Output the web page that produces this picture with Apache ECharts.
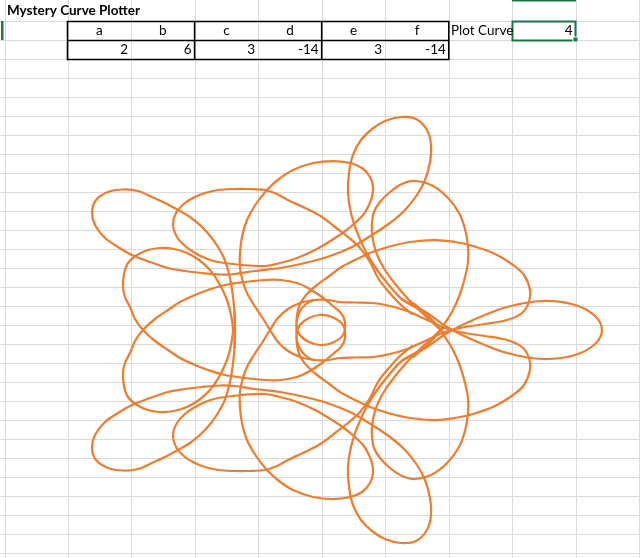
<!DOCTYPE html>
<html><head><meta charset="utf-8">
<script src="https://cdn.jsdelivr.net/npm/echarts@6/dist/echarts.min.js"></script>
<style>html,body{margin:0;padding:0;background:#fff}#c{width:640px;height:558px}</style>
</head><body><div id="c"></div>
<script>
// ---- table content ----
const title = 'Mystery Curve Plotter';
const paramNames = ['a', 'b', 'c', 'd', 'e', 'f'];
const paramValues = [2, 6, 3, -14, 3, -14];
const plotLabel = 'Plot Curve';
const plotValue = 4;

// ---- curve strokes (X,Y in plot units) ----
const farRightLoop = [[0.83,-0.30],[1.07,-0.17],[1.27,-0.03],[1.53,0.10],[1.87,0.23],[2.23,0.29],[2.55,0.25],[2.75,0.14],[2.82,0],[2.75,-0.14],[2.55,-0.25],[2.23,-0.29],[1.87,-0.23],[1.53,-0.10],[1.27,0.03],[1.07,0.17],[0.83,0.30]];
const topArc = [[1.07,0.17],[0.83,0.30],[0.68,0.46],[0.55,0.63],[0.45,0.80],[0.37,0.98],[0.31,1.17],[0.28,1.37],[0.29,1.57],[0.33,1.75],[0.41,1.90],[0.52,2.01],[0.65,2.09],[0.81,2.13],[0.96,2.11],[1.07,2.00],[1.11,1.85],[1.10,1.68],[1.05,1.50],[0.97,1.35],[0.85,1.20],[0.70,1.07],[0.52,0.95],[0.32,0.83],[0.10,0.74],[-0.15,0.67],[-0.40,0.62],[-0.65,0.59],[-0.85,0.56],[-1.00,0.555],[-1.18,0.57],[-1.35,0.59],[-1.52,0.62],[-1.70,0.68],[-1.88,0.75],[-2.02,0.83],[-2.15,0.92],[-2.25,1.05],[-2.28,1.18],[-2.24,1.30],[-2.12,1.38],[-1.97,1.405],[-1.82,1.39],[-1.68,1.33],[-1.55,1.27],[-1.42,1.20],[-1.30,1.13],[-1.18,1.03],[-1.09,0.93],[-1.02,0.83],[-0.96,0.72],[-0.92,0.60],[-0.89,0.47],[-0.87,0.33],[-0.855,0.18],[-0.85,0],[-0.855,-0.18]];
const bottomArc = [[1.07,-0.17],[0.83,-0.30],[0.68,-0.46],[0.55,-0.63],[0.45,-0.80],[0.37,-0.98],[0.31,-1.17],[0.28,-1.37],[0.29,-1.57],[0.33,-1.75],[0.41,-1.90],[0.52,-2.01],[0.65,-2.09],[0.81,-2.13],[0.96,-2.11],[1.07,-2.00],[1.11,-1.85],[1.10,-1.68],[1.05,-1.50],[0.97,-1.35],[0.85,-1.20],[0.70,-1.07],[0.52,-0.95],[0.32,-0.83],[0.10,-0.74],[-0.15,-0.67],[-0.40,-0.62],[-0.65,-0.59],[-0.85,-0.56],[-1.00,-0.555],[-1.18,-0.57],[-1.35,-0.59],[-1.52,-0.62],[-1.70,-0.68],[-1.88,-0.75],[-2.02,-0.83],[-2.15,-0.92],[-2.25,-1.05],[-2.28,-1.18],[-2.24,-1.30],[-2.12,-1.38],[-1.97,-1.405],[-1.82,-1.39],[-1.68,-1.33],[-1.55,-1.27],[-1.42,-1.20],[-1.30,-1.13],[-1.18,-1.03],[-1.09,-0.93],[-1.02,-0.83],[-0.96,-0.72],[-0.92,-0.60],[-0.89,-0.47],[-0.87,-0.33],[-0.855,-0.18],[-0.85,0],[-0.855,0.18]];

// left pretzel, its two tails, the two small centre loops and the wide right-hand lobes
const innerFigure = [[-0.55,0.50],[-0.75,0.48],[-0.95,0.45],[-1.12,0.40],[-1.25,0.35],[-1.40,0.28],[-1.52,0.20],[-1.65,0.11],[-1.77,0],[-1.85,-0.11],[-1.90,-0.23],[-1.95,-0.33],[-1.97,-0.43],[-1.96,-0.56],[-1.92,-0.67],[-1.83,-0.75],[-1.72,-0.80],[-1.60,-0.82],[-1.46,-0.81],[-1.33,-0.77],[-1.21,-0.70],[-1.10,-0.60],[-1.01,-0.47],[-0.93,-0.30],[-0.89,-0.15],[-0.87,0],[-0.89,0.15],[-0.93,0.30],[-1.01,0.47],[-1.10,0.60],[-1.21,0.70],[-1.33,0.77],[-1.46,0.81],[-1.60,0.82],[-1.72,0.80],[-1.83,0.75],[-1.92,0.67],[-1.96,0.56],[-1.97,0.43],[-1.95,0.33],[-1.90,0.23],[-1.85,0.11],[-1.77,0],[-1.65,-0.11],[-1.52,-0.20],[-1.40,-0.28],[-1.25,-0.35],[-1.12,-0.40],[-0.95,-0.45],[-0.75,-0.48],[-0.55,-0.50],
 [-0.39,-0.50],[-0.23,-0.47],[-0.12,-0.42],[0.02,-0.33],[0.13,-0.24],[0.21,-0.17],[0.25,-0.08],[0.23,0.05],[0.12,0.13],[0,0.15],[-0.11,0.12],[-0.20,0.05],[-0.235,-0.05],[-0.21,-0.17],[-0.14,-0.26],[-0.05,-0.30],[0.08,-0.30],[0.20,-0.28],[0.35,-0.275],[0.53,-0.27],[0.70,-0.24],[0.87,-0.19],[1.05,-0.11],[1.25,-0.02],[1.45,0.03],[1.65,0.06],[1.87,0.10],[2.02,0.17],[2.09,0.28],[2.10,0.40],[2.04,0.55],[1.93,0.65],[1.75,0.76],[1.53,0.84],[1.35,0.88],[1.15,0.90],[0.90,0.88],[0.68,0.83],[0.50,0.77],[0.35,0.70],[0.20,0.62],[0.08,0.53],[-0.03,0.45],[-0.12,0.37],[-0.19,0.28],[-0.22,0.20],[-0.235,0.10],[-0.235,0],
 [-0.235,-0.10],[-0.22,-0.20],[-0.19,-0.28],[-0.12,-0.37],[-0.03,-0.45],[0.08,-0.53],[0.20,-0.62],[0.35,-0.70],[0.50,-0.77],[0.68,-0.83],[0.90,-0.88],[1.15,-0.90],[1.35,-0.88],[1.53,-0.84],[1.75,-0.76],[1.93,-0.65],[2.04,-0.55],[2.10,-0.40],[2.09,-0.28],[2.02,-0.17],[1.87,-0.10],[1.65,-0.06],[1.45,-0.03],[1.25,0.02],[1.05,0.11],[0.87,0.19],[0.70,0.24],[0.53,0.27],[0.35,0.275],[0.20,0.28],[0.08,0.30],[-0.05,0.30],[-0.14,0.26],[-0.21,0.17],[-0.235,0.05],[-0.20,-0.05],[-0.11,-0.12],[0,-0.15],[0.12,-0.13],[0.23,-0.05],[0.25,0.08],[0.21,0.17],[0.13,0.24],[0.02,0.33],[-0.12,0.42],[-0.23,0.47],[-0.39,0.50],[-0.55,0.50]];

const upperRound = [[-0.07,-0.30],[-0.20,-0.27],[-0.32,-0.21],[-0.42,-0.12],[-0.50,0],[-0.58,0.13],[-0.66,0.25],[-0.73,0.37],[-0.77,0.48],[-0.80,0.62],[-0.80,0.77],[-0.78,0.93],[-0.73,1.10],[-0.64,1.26],[-0.53,1.40],[-0.41,1.51],[-0.27,1.60],[-0.07,1.67],[0.13,1.69],[0.30,1.67],[0.42,1.62],[0.50,1.53],[0.53,1.43],[0.52,1.33],[0.48,1.23],[0.43,1.15],[0.35,1.07],[0.24,0.98],[0.12,0.90],[-0.05,0.80],[-0.23,0.72],[-0.40,0.67],[-0.55,0.64],[-0.78,0.65],[-1.02,0.68],[-1.15,0.72],[-1.25,0.77],[-1.35,0.84],[-1.43,0.93],[-1.47,1.05],[-1.44,1.17],[-1.35,1.27],[-1.25,1.33],[-1.15,1.37],[-1.02,1.40],[-0.88,1.41],[-0.70,1.41],[-0.55,1.40],[-0.43,1.36],[-0.32,1.30],[-0.15,1.22],[0.02,1.13],[0.15,1.03],[0.28,0.93],[0.40,0.82],[0.50,0.68],[0.58,0.52],[0.68,0.39],[0.80,0.26],[0.92,0.16]];
const lowerRound = [[-0.07,0.30],[-0.20,0.27],[-0.32,0.21],[-0.42,0.12],[-0.50,0],[-0.58,-0.13],[-0.66,-0.25],[-0.73,-0.37],[-0.77,-0.48],[-0.80,-0.62],[-0.80,-0.77],[-0.78,-0.93],[-0.73,-1.10],[-0.64,-1.26],[-0.53,-1.40],[-0.41,-1.51],[-0.27,-1.60],[-0.07,-1.67],[0.13,-1.69],[0.30,-1.67],[0.42,-1.62],[0.50,-1.53],[0.53,-1.43],[0.52,-1.33],[0.48,-1.23],[0.43,-1.15],[0.35,-1.07],[0.24,-0.98],[0.12,-0.90],[-0.05,-0.80],[-0.23,-0.72],[-0.40,-0.67],[-0.55,-0.64],[-0.78,-0.65],[-1.02,-0.68],[-1.15,-0.72],[-1.25,-0.77],[-1.35,-0.84],[-1.43,-0.93],[-1.47,-1.05],[-1.44,-1.17],[-1.35,-1.27],[-1.25,-1.33],[-1.15,-1.37],[-1.02,-1.40],[-0.88,-1.41],[-0.70,-1.41],[-0.55,-1.40],[-0.43,-1.36],[-0.32,-1.30],[-0.15,-1.22],[0.02,-1.13],[0.15,-1.03],[0.28,-0.93],[0.40,-0.82],[0.50,-0.68],[0.58,-0.52],[0.68,-0.39],[0.80,-0.26],[0.92,-0.16]];

const upperRing = [[0.93,-0.27],[1.05,-0.17],[1.15,-0.07],[1.25,0.07],[1.33,0.20],[1.40,0.36],[1.45,0.53],[1.48,0.68],[1.48,0.83],[1.45,1.01],[1.39,1.17],[1.28,1.32],[1.13,1.44],[0.95,1.49],[0.82,1.46],[0.70,1.38],[0.60,1.28],[0.54,1.18],[0.52,1.07],[0.52,0.97],[0.54,0.85],[0.58,0.73],[0.65,0.60],[0.76,0.45],[0.88,0.31],[1.00,0.19],[1.12,0.08],[1.23,-0.02]];
const lowerRing = [[0.93,0.27],[1.05,0.17],[1.15,0.07],[1.25,-0.07],[1.33,-0.20],[1.40,-0.36],[1.45,-0.53],[1.48,-0.68],[1.48,-0.83],[1.45,-1.01],[1.39,-1.17],[1.28,-1.32],[1.13,-1.44],[0.95,-1.49],[0.82,-1.46],[0.70,-1.38],[0.60,-1.28],[0.54,-1.18],[0.52,-1.07],[0.52,-0.97],[0.54,-0.85],[0.58,-0.73],[0.65,-0.60],[0.76,-0.45],[0.88,-0.31],[1.00,-0.19],[1.12,-0.08],[1.23,0.02]];

const curveStrokes = [farRightLoop, topArc, bottomArc, innerFigure, upperRound, lowerRound, upperRing, lowerRing];

// ---- sheet geometry (layout only) ----
const colEdges = [4.5, 67.5, 131, 194.6, 258.2, 321.7, 385.2, 448.8, 512.3, 575.9, 639.4];
const rowTop = 20.7, rowH = 19.02;
const FONT = 'Lato, "Open Sans", sans-serif';
const gridColor = '#dadada';
const curveColor = '#ED7D31';

const graphics = [];
for (const x of colEdges) {
  graphics.push({type:'line', silent:true, z:0, shape:{x1:Math.round(x)+0.5, y1:0, x2:Math.round(x)+0.5, y2:558}, style:{stroke:gridColor, lineWidth:1}});
}
for (let k = 0; k < 30; k++) {
  const y = Math.round(rowTop + rowH * k) + 0.5;
  graphics.push({type:'line', silent:true, z:0, shape:{x1:0, y1:y, x2:640, y2:y}, style:{stroke:gridColor, lineWidth:1}});
}
function rowY(k){ return Math.round(rowTop + rowH * k); }
graphics.push({type:'rect', silent:true, z:5, shape:{x:512, y:0, width:64, height:1.5}, style:{fill:'#217346'}});
graphics.push({type:'rect', silent:true, z:5, shape:{x:1, y:rowY(0), width:2.5, height:rowH}, style:{fill:'#217346'}});
graphics.push({type:'rect', silent:true, z:6, shape:{x:512.5, y:rowY(0)+0.5, width:63, height:rowH}, style:{fill:'none', stroke:'#217346', lineWidth:2}});
graphics.push({type:'rect', silent:true, z:7, shape:{x:573, y:rowY(1)-3, width:5, height:5}, style:{fill:'#217346', stroke:'#fff', lineWidth:1}});
const tL = 67.5, tR = 448.8, tT = rowY(0)+0.5, tM = rowY(1)+0.5, tB = rowY(2)+0.5;
const blk = {stroke:'#000', lineWidth:1.6};
graphics.push({type:'rect', silent:true, z:6, shape:{x:tL, y:tT, width:tR-tL, height:tB-tT}, style:Object.assign({fill:'none'}, blk)});
graphics.push({type:'line', silent:true, z:6, shape:{x1:tL, y1:tM, x2:tR, y2:tM}, style:blk});
graphics.push({type:'line', silent:true, z:6, shape:{x1:194.6, y1:tT, x2:194.6, y2:tB}, style:blk});
graphics.push({type:'line', silent:true, z:6, shape:{x1:321.7, y1:tT, x2:321.7, y2:tB}, style:blk});
graphics.push({type:'text', z:8, style:{text:title, x:7, y:11, font:'bold 13.5px ' + FONT, fill:'#000', textVerticalAlign:'middle'}});
paramNames.forEach((n, i) => {
  const cx = (colEdges[i+1] + colEdges[i+2]) / 2;
  graphics.push({type:'text', z:8, style:{text:n, x:cx, y:30.5, font:'13.5px ' + FONT, fill:'#000', textAlign:'center', textVerticalAlign:'middle'}});
  graphics.push({type:'text', z:8, style:{text:String(paramValues[i]), x:colEdges[i+2]-3, y:49.5, font:'13.5px ' + FONT, fill:'#000', textAlign:'right', textVerticalAlign:'middle'}});
});
graphics.push({type:'text', z:8, style:{text:plotLabel, x:451, y:30.5, font:'13.5px ' + FONT, fill:'#000', textVerticalAlign:'middle'}});
graphics.push({type:'text', z:8, style:{text:String(plotValue), x:572.5, y:30.5, font:'13.5px ' + FONT, fill:'#000', textAlign:'right', textVerticalAlign:'middle'}});

// smooth stroke through the mapped points (Catmull-Rom as cubic Bezier)
function strokePath(pts) {
  const n = pts.length;
  const closed = Math.hypot(pts[0][0]-pts[n-1][0], pts[0][1]-pts[n-1][1]) < 0.5;
  const get = i => {
    if (closed) { const m = n - 1; return pts[((i % m) + m) % m]; }
    return pts[Math.max(0, Math.min(n - 1, i))];
  };
  let d = 'M' + pts[0][0].toFixed(2) + ' ' + pts[0][1].toFixed(2);
  for (let i = 0; i < n - 1; i++) {
    const p0 = get(i - 1), p1 = get(i), p2 = get(i + 1), p3 = get(i + 2);
    const c1x = p1[0] + (p2[0] - p0[0]) / 6, c1y = p1[1] + (p2[1] - p0[1]) / 6;
    const c2x = p2[0] - (p3[0] - p1[0]) / 6, c2y = p2[1] - (p3[1] - p1[1]) / 6;
    d += ' C' + c1x.toFixed(2) + ' ' + c1y.toFixed(2) + ' ' + c2x.toFixed(2) + ' ' + c2y.toFixed(2) + ' ' + p2[0].toFixed(2) + ' ' + p2[1].toFixed(2);
  }
  return d;
}

const chart = echarts.init(document.getElementById('c'), null, {renderer:'canvas'});
chart.setOption({
  animation:false,
  backgroundColor:'#ffffff',
  grid:{left:0, top:0, right:0, bottom:0},
  xAxis:{type:'value', min:-3.2, max:3.2, show:false},
  yAxis:{type:'value', min:-2.28, max:3.30, show:false},
  graphic:graphics,
  series:[{
    type:'custom',
    coordinateSystem:'cartesian2d',
    clip:false,
    z:3,
    data: curveStrokes.map((s, i) => [s[0][0], s[0][1], i]),
    encode:{x:0, y:1},
    renderItem:(params, api) => {
      const stroke = curveStrokes[api.value(2)];
      const pts = stroke.map(p => api.coord(p));
      return {type:'path', shape:{pathData:strokePath(pts)}, style:{fill:'none', stroke:curveColor, lineWidth:2.25, lineJoin:'round', lineCap:'round'}};
    }
  }]
});
</script></body></html>
